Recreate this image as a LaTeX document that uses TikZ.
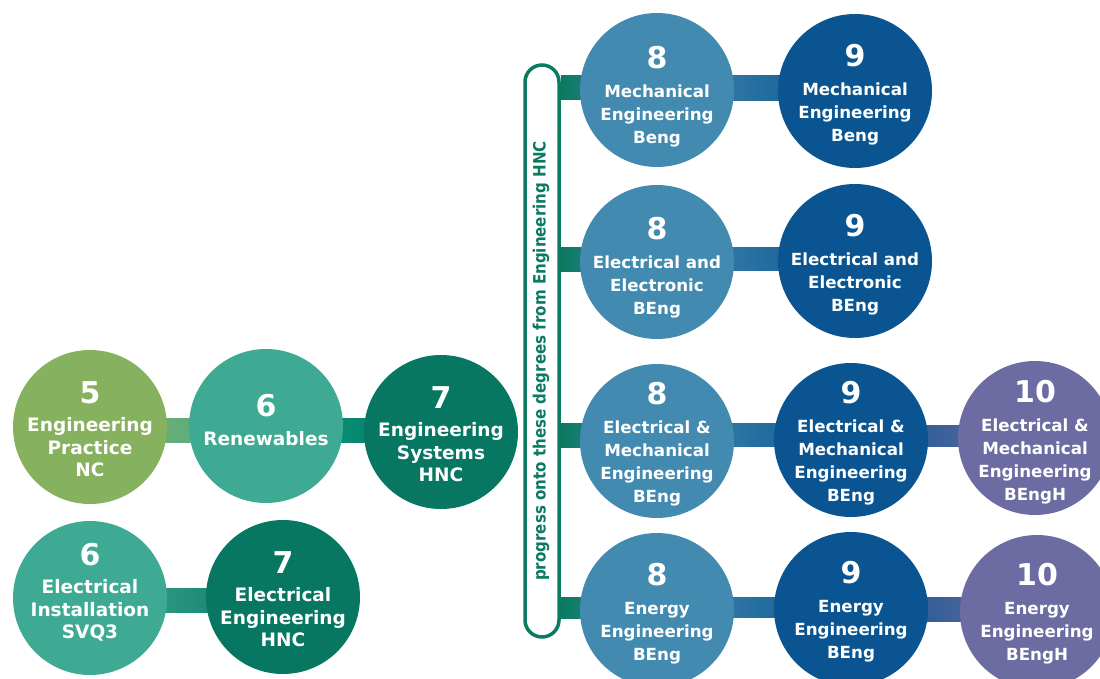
\documentclass[tikz,border=0pt]{standalone}
\usepackage{fontspec}
\setmainfont{DejaVu Sans}
\usetikzlibrary{calc,backgrounds}
\definecolor{lgreen}{HTML}{86B15E}
\definecolor{teal6}{HTML}{3FAA93}
\definecolor{bteal}{HTML}{079A80}
\definecolor{dteal}{HTML}{077762}
\definecolor{blue8}{HTML}{428AAF}
\definecolor{blue9}{HTML}{0A5591}
\definecolor{purp}{HTML}{6D6CA2}
\definecolor{brgreen}{HTML}{0B7A61}
\newcommand\lvl[1]{{\fontsize{30}{30}\selectfont #1}\\[6pt]}
\begin{document}
\begin{tikzpicture}[x=1pt,y=-1pt,
  disc/.style={circle,fill=#1,minimum size=154pt,inner sep=0pt},
  lbl/.style={align=center,text=white,inner sep=0pt,font=\bfseries\fontsize{18.5}{22.5}\selectfont},
  lbr/.style={align=center,text=white,inner sep=0pt,font=\bfseries\fontsize{16.7}{23}\selectfont},
  bracketbox/.style={draw=brgreen,line width=3.5pt,fill=white,rounded corners=17pt,
    minimum width=34pt,minimum height=572pt,inner sep=0pt},
  brtext/.style={text=brgreen,font=\bfseries\fontsize{17}{17}\selectfont,rotate=90}
]
\useasboundingbox (0,0) rectangle (1100,679);
\clip (0,0) rectangle (1100,679);
% left side
\node[disc=lgreen] (c5) at (90,427) {};
\node[disc=teal6] (c6) at (266,426) {};
\node[disc=dteal] (c7) at (441,432) {};
\node[disc=teal6] (d6) at (90,598) {};
\node[disc=dteal] (d7) at (283,597) {};
\node[lbl] (c5t) at ($(c5)+(0,2)$) {\lvl{5}Engineering\\Practice\\NC};
\node[lbl] (c6t) at ($(c6)+(0,-6)$) {\lvl{6}Renewables};
\node[lbl] (c7t) at ($(c7)+(0,2)$) {\lvl{7}Engineering\\Systems\\HNC};
\node[lbl] (d6t) at ($(d6)+(0,-6)$) {\lvl{6}Electrical\\Installation\\SVQ3};
\node[lbl] (d7t) at ($(d7)+(0,2)$) {\lvl{7}Electrical\\Engineering\\HNC};
% bracket
\node[bracketbox] (br) at (542,351) {};
\node[brtext] (brt) at (541,361) {\scalebox{0.887}[1]{progress onto these degrees from Engineering HNC}};
% right side
\node[disc=blue8] (r1a) at (657,90) {};
\node[disc=blue9] (r1b) at (855,91) {};
\node[disc=blue8] (r2a) at (657,262) {};
\node[disc=blue9] (r2b) at (855,261) {};
\node[disc=blue8] (r3a) at (657,441) {};
\node[disc=blue9] (r3b) at (851,440) {};
\node[disc=purp] (r3c) at (1035,438) {};
\node[disc=blue8] (r4a) at (657,610) {};
\node[disc=blue9] (r4b) at (851,609) {};
\node[disc=purp] (r4c) at (1037,612) {};
\node[lbr] (r1at) at ($(r1a)+(0,7)$) {\lvl{8}Mechanical\\Engineering\\Beng};
\node[lbr] (r1bt) at ($(r1b)+(0,4)$) {\lvl{9}Mechanical\\Engineering\\Beng};
\node[lbr] (r2at) at ($(r2a)+(0,6)$) {\lvl{8}Electrical and\\Electronic\\BEng};
\node[lbr] (r2bt) at ($(r2b)+(0,4)$) {\lvl{9}Electrical and\\Electronic\\BEng};
\node[lbr] (r3at) at ($(r3a)+(0,3)$) {\lvl{8}Electrical \&\\Mechanical\\Engineering\\BEng};
\node[lbr] (r3bt) at ($(r3b)+(0,3)$) {\lvl{9}Electrical \&\\Mechanical\\Engineering\\BEng};
\node[lbr] (r3ct) at ($(r3c)+(0,4)$) {\lvl{10}Electrical \&\\Mechanical\\Engineering\\BEngH};
\node[lbr] (r4at) at ($(r4a)+(0,4)$) {\lvl{8}Energy\\Engineering\\BEng};
\node[lbr] (r4bt) at ($(r4b)+(0,3)$) {\lvl{9}Energy\\Engineering\\BEng};
\node[lbr] (r4ct) at ($(r4c)+(0,2)$) {\lvl{10}Energy\\Engineering\\BEngH};
% connector bars
\begin{pgfonlayer}{background}
\shade[left color=lgreen,right color=teal6] ($(c5.center)+(0,-9)$) rectangle ($(c6.center)+(0,16)$);
\shade[left color=bteal,right color=dteal] ($(c6.center)+(0,-8)$) rectangle ($(c7.center)+(0,10)$);
\shade[left color=teal6,middle color=bteal,right color=dteal] ($(d6.center)+(0,-10)$) rectangle ($(d7.center)+(0,15)$);
\shade[left color=brgreen,right color=blue8] ($(br.east|-r1a)+(0,-14)$) rectangle ($(r1a.center)+(0,10)$);
\shade[left color=brgreen,right color=blue8] ($(br.east|-r2a)+(0,-15)$) rectangle ($(r2a.center)+(0,9)$);
\shade[left color=brgreen,right color=blue8] ($(br.east|-r3a)+(0,-18)$) rectangle ($(r3a.center)+(0,6)$);
\shade[left color=brgreen,right color=blue8] ($(br.east|-r4a)+(0,-13)$) rectangle ($(r4a.center)+(0,8)$);
\shade[left color=blue8,right color=blue9] ($(r1a.center)+(0,-14)$) rectangle ($(r1b.center)+(0,10)$);
\shade[left color=blue8,right color=blue9] ($(r2a.center)+(0,-15)$) rectangle ($(r2b.center)+(0,9)$);
\shade[left color=blue8,right color=blue9] ($(r3a.center)+(0,-18)$) rectangle ($(r3b.center)+(0,6)$);
\shade[left color=blue9,right color=purp] ($(r3b.center)+(0,-15)$) rectangle ($(r3c.center)+(0,8)$);
\shade[left color=blue8,right color=blue9] ($(r4a.center)+(0,-13)$) rectangle ($(r4b.center)+(0,8)$);
\shade[left color=blue9,right color=purp] ($(r4b.center)+(0,-12)$) rectangle ($(r4c.center)+(0,9)$);
\end{pgfonlayer}
\end{tikzpicture}
\end{document}
